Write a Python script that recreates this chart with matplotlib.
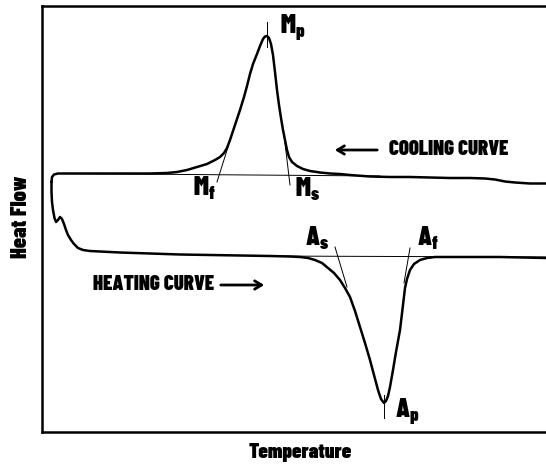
from matplotlib import pyplot as plt

# cooling curve, traced right to left (temperature, heat flow)
cool_t = [546, 530, 515, 505, 495, 485, 470, 450, 430, 410, 390, 370, 350, 340, 330, 320,
          310, 303, 297, 292, 289, 287, 285, 283, 281, 279, 277, 275, 273, 271, 269, 267,
          265, 263, 260, 257, 253, 250, 247, 244, 240, 236, 233, 230, 227, 224, 220, 215,
          207, 197, 187, 177, 167, 150, 130, 100, 70, 58, 54, 52, 51.5]
cool_hf = [282.5, 282.5, 283.5, 284.5, 286.5, 287.5, 288, 288, 288.5, 289, 289, 289.5, 291, 292, 292.5, 293.5,
           295, 297, 300, 304, 309, 316, 326, 336, 348, 361, 376, 394, 411, 422, 428, 430,
           429.5, 427, 420, 412, 402, 392, 380, 369, 356, 344, 335, 326, 318, 313, 309, 306,
           302, 299, 296, 294, 293, 292.5, 292.5, 292.5, 292.5, 292.5, 291.5, 289, 284]

# heating curve, traced left to right
heat_t = [51.5, 51.5, 52, 53, 54.5, 56, 58, 60, 62, 64, 66, 68, 71, 74, 78, 83, 90, 100, 120,
          150, 180, 210, 240, 270, 290, 300, 308, 315, 322, 328, 334, 340, 345, 350, 355,
          360, 365, 370, 374, 378, 381, 384, 386, 388, 390, 393, 396, 400, 403, 405, 407,
          410, 414, 420, 427, 435, 460, 500, 546]
heat_hf = [284, 274, 264, 256, 248, 244, 246, 249, 247, 242, 236, 231, 226, 222, 218, 216, 215, 214.5, 213.5,
           212.5, 211.5, 211, 210.5, 210, 209.5, 209, 208, 206, 203, 198, 193, 186, 178, 169, 155,
           139, 123, 106, 91, 76, 67, 63, 65, 70, 79, 96, 114, 136, 161, 178, 187,
           196, 202, 206, 208, 209, 209, 209, 208]

# construction lines: baselines, tangents, peak ticks
cool_base_t, cool_base_hf = [60, 380], [292.5, 290]
heat_base_t, heat_base_hf = [255, 546], [210, 209]
mf_t, mf_hf = [228, 217], [319, 284]
ms_t, ms_hf = [284, 290], [331, 281]
as_t, as_hf = [335, 347], [219, 179]
af_t, af_hf = [410, 404], [218, 183]
mp_t, mp_hf = [267, 267], [444, 419]
ap_t, ap_hf = [384, 384], [71, 48]

# point labels
labels = ['$M_p$', '$M_f$', '$M_s$', '$A_s$', '$A_f$', '$A_p$']
label_t = [280, 193, 295, 305, 417, 395]
label_hf = [433, 270, 269, 220, 220, 49]

FONT = 'Barlow Condensed'
plt.rcParams['font.family'] = [FONT, 'DejaVu Sans']
plt.rcParams['font.weight'] = 'black'
plt.rcParams['mathtext.fontset'] = 'custom'
plt.rcParams['mathtext.rm'] = FONT + ':black'
plt.rcParams['mathtext.it'] = FONT + ':black'
plt.rcParams['mathtext.bf'] = FONT + ':black'
plt.rcParams['mathtext.default'] = 'rm'

fig = plt.figure(figsize=(5.46, 4.66), dpi=100)
ax = fig.add_axes([42 / 546, (466 - 432) / 466, 1 - 42 / 546, (432 - 6) / 466])

ax.plot(cool_t, cool_hf, color='black', lw=1.8, solid_joinstyle='round')
ax.plot(heat_t, heat_hf, color='black', lw=1.8, solid_joinstyle='round')
for xs, ys in [(cool_base_t, cool_base_hf), (heat_base_t, heat_base_hf), (mf_t, mf_hf),
               (ms_t, ms_hf), (as_t, as_hf), (af_t, af_hf), (mp_t, mp_hf), (ap_t, ap_hf)]:
    ax.plot(xs, ys, color='black', lw=0.7)

for s, x, y in zip(labels, label_t, label_hf):
    ax.text(x, y, s, fontsize=19, ha='left', va='baseline')

ax.text(389, 316, 'COOLING CURVE', fontsize=15, ha='left', va='center')
ax.annotate('', xy=(332, 316), xytext=(380, 316),
            arrowprops=dict(arrowstyle='->,head_length=0.5,head_width=0.3', lw=2, color='black'))
ax.text(93, 181, 'HEATING CURVE', fontsize=15, ha='left', va='center')
ax.annotate('', xy=(267, 181), xytext=(218, 181),
            arrowprops=dict(arrowstyle='->,head_length=0.5,head_width=0.3', lw=2, color='black'))

ax.set_xlim(42, 546)
ax.set_ylim(34, 460)
ax.set_xticks([])
ax.set_yticks([])
ax.spines['right'].set_visible(False)
for side in ['left', 'top', 'bottom']:
    ax.spines[side].set_linewidth(1.8)

fig.text(21 / 546, 1 - 217 / 466, 'Heat Flow', rotation=90, fontsize=16,
         ha='center', va='center')
fig.text(300 / 546, 1 - 452 / 466, 'Temperature', fontsize=15, ha='center', va='center')

fig.savefig('out.png', dpi=100)
